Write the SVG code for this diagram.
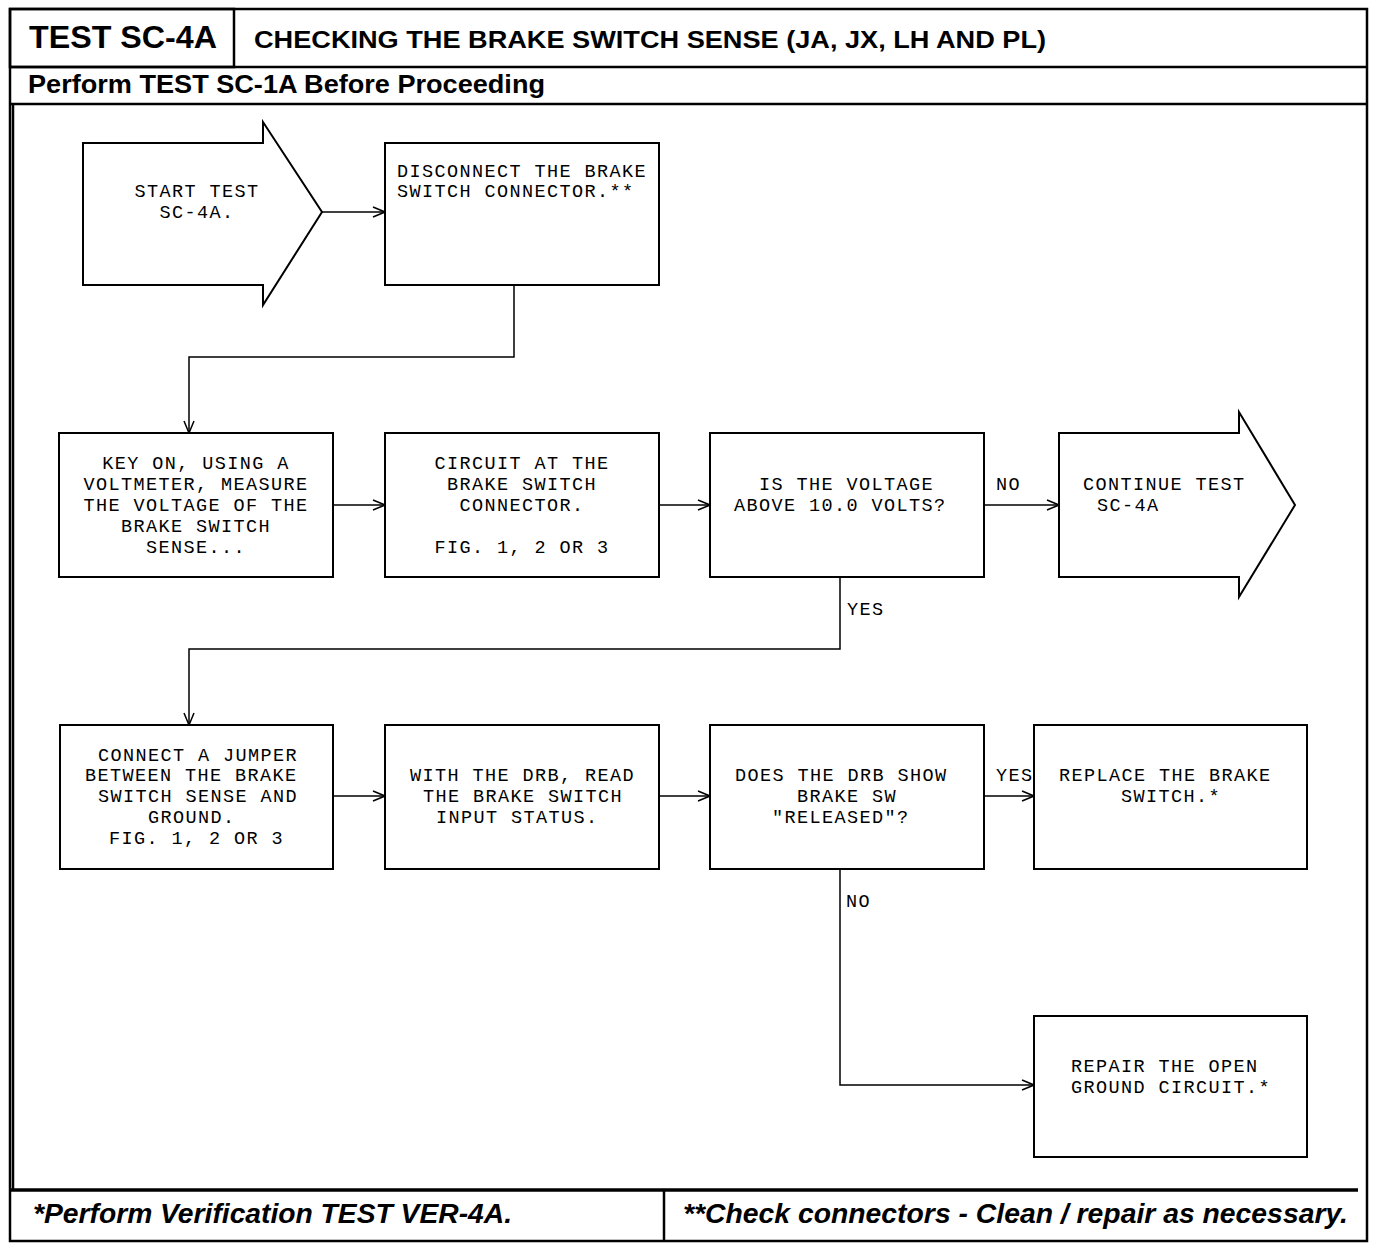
<svg xmlns="http://www.w3.org/2000/svg" width="1376" height="1250" viewBox="0 0 1376 1250">
<defs>
<style>
.frame{fill:none;stroke:#000;stroke-width:2.5}
.box{fill:#fff;stroke:#000;stroke-width:2}
.con{fill:none;stroke:#000;stroke-width:1.5}
.t{font-family:"Liberation Mono","Courier New",monospace;font-size:18.5px;letter-spacing:1.4px;fill:#000}
.h{font-family:"Liberation Sans",Arial,sans-serif;font-weight:bold;fill:#000}
.f{font-family:"Liberation Sans",Arial,sans-serif;font-weight:bold;font-style:italic;fill:#000;font-size:27px}
</style>
<marker id="arr" markerWidth="14" markerHeight="12" refX="13" refY="6" orient="auto" markerUnits="userSpaceOnUse">
<path d="M1,1 L13,6 L1,11" fill="none" stroke="#000" stroke-width="1.5"/>
</marker>
</defs>
<rect width="1376" height="1250" fill="#fff"/>
<g id="frame">
<rect class="frame" x="10" y="9" width="1357" height="1232"/>
<rect class="frame" x="10" y="9" width="224" height="58"/>
<line class="frame" x1="10" y1="67" x2="1367" y2="67"/>
<line class="frame" x1="10" y1="104" x2="1367" y2="104"/>
<line class="frame" x1="13" y1="104" x2="13" y2="1190"/>
<line x1="10" y1="1190" x2="1358" y2="1190" stroke="#000" stroke-width="3.5"/>
<line class="frame" x1="664" y1="1190" x2="664" y2="1241"/>
<text class="h" x="29" y="48" font-size="32" textLength="188" lengthAdjust="spacingAndGlyphs">TEST SC-4A</text>
<text class="h" x="254" y="48" font-size="24" textLength="792" lengthAdjust="spacingAndGlyphs">CHECKING THE BRAKE SWITCH SENSE (JA, JX, LH AND PL)</text>
<text class="h" x="28" y="93" font-size="25" textLength="517" lengthAdjust="spacingAndGlyphs">Perform TEST SC-1A Before Proceeding</text>
<text class="f" x="33" y="1223" textLength="479" lengthAdjust="spacingAndGlyphs">*Perform Verification TEST VER-4A.</text>
<text class="f" x="683" y="1223" textLength="665" lengthAdjust="spacingAndGlyphs">**Check connectors - Clean / repair as necessary.</text>
</g>
<g id="connectors">
<line class="con" x1="322" y1="212" x2="385" y2="212" marker-end="url(#arr)"/>
<polyline class="con" points="514,285 514,357 189,357 189,433" marker-end="url(#arr)"/>
<line class="con" x1="333" y1="505" x2="385" y2="505" marker-end="url(#arr)"/>
<line class="con" x1="659" y1="505" x2="710" y2="505" marker-end="url(#arr)"/>
<line class="con" x1="984" y1="505" x2="1059" y2="505" marker-end="url(#arr)"/>
<polyline class="con" points="840,577 840,649 189,649 189,725" marker-end="url(#arr)"/>
<line class="con" x1="333" y1="796" x2="385" y2="796" marker-end="url(#arr)"/>
<line class="con" x1="659" y1="796" x2="710" y2="796" marker-end="url(#arr)"/>
<line class="con" x1="984" y1="796" x2="1034" y2="796" marker-end="url(#arr)"/>
<polyline class="con" points="840,869 840,1085 1034,1085" marker-end="url(#arr)"/>
<text class="t" x="996" y="490">NO</text>
<text class="t" x="847" y="615">YES</text>
<text class="t" x="996" y="781">YES</text>
<text class="t" x="846" y="907">NO</text>
</g>
<g id="start">
<polygon class="box" points="83,143 263,143 263,122 322,212 263,305 263,285 83,285"/>
<text class="t" x="197" y="197" text-anchor="middle">START TEST</text>
<text class="t" x="197" y="218" text-anchor="middle">SC-4A.</text>
</g>
<g id="disconnect">
<rect class="box" x="385" y="143" width="274" height="142"/>
<text class="t" x="397" y="177">DISCONNECT THE BRAKE</text>
<text class="t" x="397" y="197">SWITCH CONNECTOR.**</text>
</g>
<g id="keyon">
<rect class="box" x="59" y="433" width="274" height="144"/>
<text class="t" x="196" y="469" text-anchor="middle">KEY ON, USING A</text>
<text class="t" x="196" y="490" text-anchor="middle">VOLTMETER, MEASURE</text>
<text class="t" x="196" y="511" text-anchor="middle">THE VOLTAGE OF THE</text>
<text class="t" x="196" y="532" text-anchor="middle">BRAKE SWITCH</text>
<text class="t" x="196" y="553" text-anchor="middle">SENSE...</text>
</g>
<g id="circuit">
<rect class="box" x="385" y="433" width="274" height="144"/>
<text class="t" x="522" y="469" text-anchor="middle">CIRCUIT AT THE</text>
<text class="t" x="522" y="490" text-anchor="middle">BRAKE SWITCH</text>
<text class="t" x="522" y="511" text-anchor="middle">CONNECTOR.</text>
<text class="t" x="522" y="553" text-anchor="middle">FIG. 1, 2 OR 3</text>
</g>
<g id="isvoltage">
<rect class="box" x="710" y="433" width="274" height="144"/>
<text class="t" x="759" y="490">IS THE VOLTAGE</text>
<text class="t" x="734" y="511">ABOVE 10.0 VOLTS?</text>
</g>
<g id="continue">
<polygon class="box" points="1059,433 1239,433 1239,412 1295,505 1239,597 1239,577 1059,577"/>
<text class="t" x="1083" y="490">CONTINUE TEST</text>
<text class="t" x="1097" y="511">SC-4A</text>
</g>
<g id="jumper">
<rect class="box" x="60" y="725" width="273" height="144"/>
<text class="t" x="98" y="761">CONNECT A JUMPER</text>
<text class="t" x="85" y="781">BETWEEN THE BRAKE</text>
<text class="t" x="98" y="802">SWITCH SENSE AND</text>
<text class="t" x="148" y="823">GROUND.</text>
<text class="t" x="109" y="844">FIG. 1, 2 OR 3</text>
</g>
<g id="readdrb">
<rect class="box" x="385" y="725" width="274" height="144"/>
<text class="t" x="410" y="781">WITH THE DRB, READ</text>
<text class="t" x="423" y="802">THE BRAKE SWITCH</text>
<text class="t" x="436" y="823">INPUT STATUS.</text>
</g>
<g id="doesdrb">
<rect class="box" x="710" y="725" width="274" height="144"/>
<text class="t" x="735" y="781">DOES THE DRB SHOW</text>
<text class="t" x="797" y="802">BRAKE SW</text>
<text class="t" x="772" y="823">"RELEASED"?</text>
</g>
<g id="replace">
<rect class="box" x="1034" y="725" width="273" height="144"/>
<text class="t" x="1059" y="781">REPLACE THE BRAKE</text>
<text class="t" x="1121" y="802">SWITCH.*</text>
</g>
<g id="repair">
<rect class="box" x="1034" y="1016" width="273" height="141"/>
<text class="t" x="1071" y="1072">REPAIR THE OPEN</text>
<text class="t" x="1071" y="1093">GROUND CIRCUIT.*</text>
</g>
</svg>
